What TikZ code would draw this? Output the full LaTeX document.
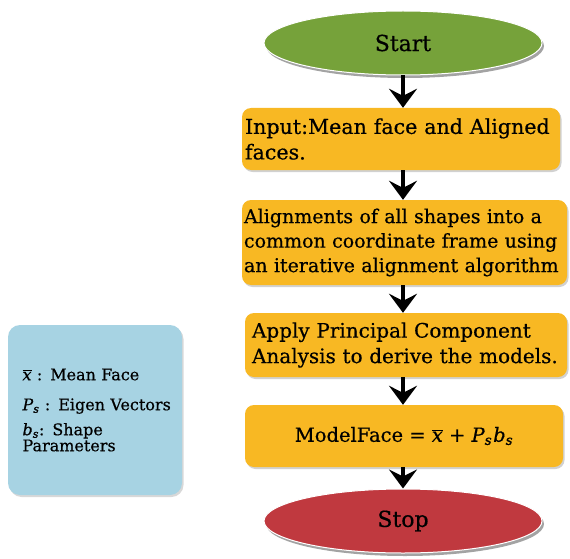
\documentclass[tikz,border=0pt]{standalone}
\usepackage{fontspec}
\setmainfont{DejaVu Serif}[FakeBold=0.5]
\usetikzlibrary{arrows.meta,shadows,shapes.geometric}
\definecolor{startgreen}{HTML}{76A23A}
\definecolor{stopred}{HTML}{C0393F}
\definecolor{stepamber}{HTML}{F8B823}
\definecolor{legendblue}{HTML}{A7D3E3}
% italic symbols set in the text font
\newcommand{\meanx}{\ensuremath{\overline{\hbox{\itshape x}}}}
\newcommand{\symP}{{\itshape P}\textsubscript{\itshape s}}
\newcommand{\symb}{{\itshape b}\textsubscript{\itshape s}}
\newcommand{\indentline}{\hspace*{6pt}}
\tikzset{
  x=1pt, y=-1pt,
  terminal/.style={ellipse, draw=white, line width=1pt, minimum width=278pt, minimum height=64pt,
    font=\fontsize{22}{24}\selectfont, inner sep=0pt,
    drop shadow={shadow xshift=2pt, shadow yshift=-3pt, fill=black!45, opacity=0.8}},
  stepbox/.style={rectangle, rounded corners=9pt, fill=stepamber, inner xsep=3pt, inner ysep=0pt,
    font=\fontsize{19.5}{24.5}\selectfont, align=left,
    drop shadow={shadow xshift=1.5pt, shadow yshift=-2pt, fill=black!30, opacity=0.6}},
  legendbox/.style={rectangle, rounded corners=12pt, fill=legendblue, minimum width=174pt,
    minimum height=170pt, text width=157pt, align=left, inner xsep=8.5pt,
    font=\fontsize{16}{19}\selectfont,
    drop shadow={shadow xshift=1.5pt, shadow yshift=-2pt, fill=black!30, opacity=0.5}},
  flow/.style={line width=3.5pt, -{Stealth[length=19pt, width=28pt, inset=7pt]}},
}
\begin{document}
\begin{tikzpicture}
\useasboundingbox (0,0) rectangle (570,559);
% terminals
\node[terminal, fill=startgreen] (start) at (403,43) {Start};
% process steps
\node[stepbox, minimum width=318pt, minimum height=62pt, text width=312pt,
  font=\fontsize{20.6}{25.5}\selectfont] (input) at (401,139)
  {Input:Mean face and Aligned\\faces.};
\node[stepbox, minimum width=325pt, minimum height=85pt, text width=321pt, inner xsep=2pt,
  font=\fontsize{19}{24.5}\selectfont] (align) at (404.5,242.5)
  {Alignments of all shapes into a\\common coordinate frame using\\an iterative alignment algorithm};
\node[stepbox, minimum width=322pt, minimum height=64pt, text width=308pt, inner xsep=7pt,
  font=\fontsize{20}{25.5}\selectfont] (pca) at (406,345)
  {Apply Principal Component\\Analysis to derive the models.};
\node[stepbox, minimum width=318pt, minimum height=62pt, align=center] (model) at (404,436)
  {ModelFace = \meanx{} + \symP\kern1pt\symb};
\node[terminal, fill=stopred] (stop) at (403,521) {Stop};
% legend of the symbols
\node[legendbox] (legend) at (95,410)
  {\indentline\meanx{} : Mean Face\\[11pt]
   \indentline\symP{} : Eigen Vectors\\[6pt]
   \indentline\symb: Shape\\[-3pt]
   \indentline Parameters};
% connectors
\draw[flow] (start.south) -- (start.south |- input.north);
\draw[flow] (start.south |- input.south) -- (start.south |- align.north);
\draw[flow] (start.south |- align.south) -- (start.south |- pca.north);
\draw[flow] (start.south |- pca.south) -- (start.south |- model.north);
\draw[flow] (start.south |- model.south) -- (stop.north);
\end{tikzpicture}
\end{document}
